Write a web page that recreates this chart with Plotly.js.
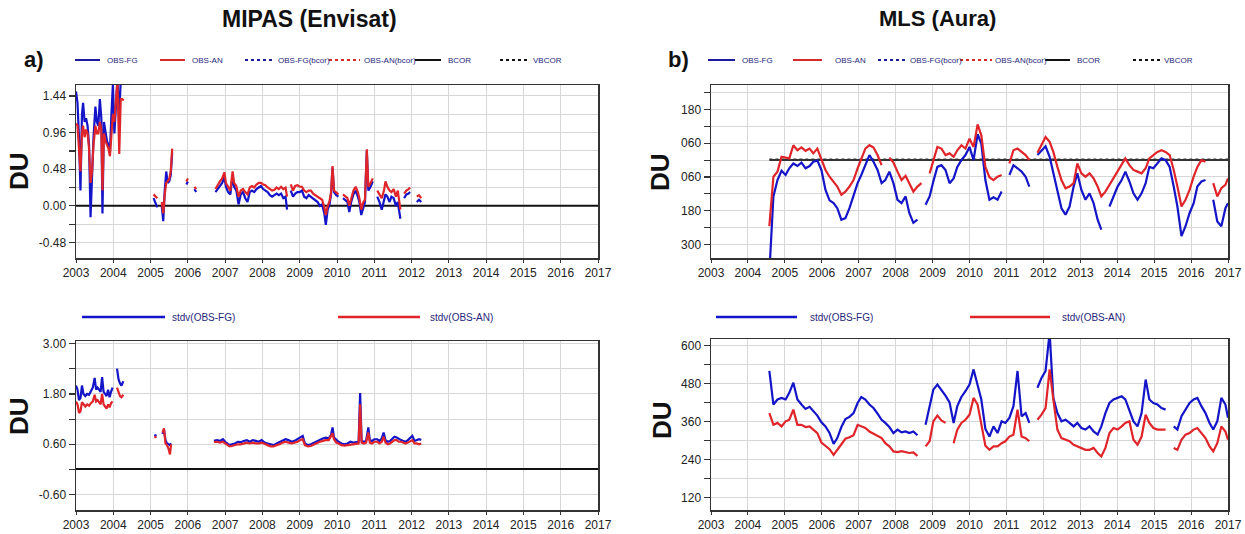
<!DOCTYPE html>
<html><head><meta charset="utf-8">
<script src="https://cdn.plot.ly/plotly-3.0.1.min.js"></script>
<style>html,body{margin:0;padding:0;background:#fff}#chart{width:1245px;height:534px}</style>
</head><body><div id="chart"></div>
<script>
// ---------------- DATA ----------------
const yearTicks = [2003,2004,2005,2006,2007,2008,2009,2010,2011,2012,2013,2014,2015,2016,2017];
const yearLabels = ["2003","2004","2005","2006","2007","2008","2009","2010","2011","2012","2013","2014","2015","2016","2017"];

// MIPAS (Envisat) mean departures (DU)
const tMipasMean = [2003.00,2003.04,2003.08,2003.12,2003.16,2003.19,2003.23,2003.27,2003.31,2003.35,2003.39,2003.43,2003.47,2003.52,2003.56,2003.60,2003.64,2003.68,2003.71,2003.75,2003.79,2003.83,2003.87,2003.91,2003.95,2003.99,2004.03,2004.07,2004.11,2004.16,2004.20,2004.24,2004.28,2004.30,
2005.08,2005.13,2005.18,2005.22,2005.30,2005.34,2005.38,2005.42,2005.46,2005.50,2005.54,2005.58,2005.60,2005.66,2005.68,2005.96,2006.00,2006.02,2006.18,2006.22,2006.24,2006.50,2006.52,2006.68,2006.70,
2006.74,2006.80,2006.86,2006.92,2006.98,2007.02,2007.08,2007.14,2007.20,2007.24,2007.30,2007.36,2007.42,2007.48,2007.54,2007.60,2007.66,2007.72,2007.78,2007.84,2007.90,2007.96,
2008.02,2008.08,2008.14,2008.20,2008.26,2008.32,2008.38,2008.44,2008.50,2008.56,2008.62,2008.66,2008.70,2008.76,2008.82,2008.88,2008.94,
2009.00,2009.06,2009.12,2009.18,2009.24,2009.30,2009.36,2009.42,2009.48,2009.54,2009.60,2009.66,2009.70,2009.75,2009.80,2009.84,2009.88,2009.92,2009.98,
2010.04,2010.08,2010.16,2010.22,2010.28,2010.33,2010.38,2010.44,2010.50,2010.56,2010.60,2010.65,2010.70,2010.75,2010.80,2010.84,2010.90,2010.96,
2011.00,2011.08,2011.14,2011.20,2011.26,2011.30,2011.35,2011.41,2011.46,2011.52,2011.58,2011.63,2011.70,2011.75,2011.80,2011.86,2011.92,2011.96,
2012.00,2012.05,2012.10,2012.14,2012.20,2012.26];
const mipasObsFg = [1.50,1.35,0.90,0.20,1.20,1.35,1.10,1.15,1.05,0.80,-0.15,0.40,0.90,1.30,1.10,1.05,1.40,1.15,-0.10,1.10,0.95,0.85,0.80,0.70,1.20,1.60,0.95,1.30,1.65,1.20,1.65,1.70,1.65,null,
0.10,0.05,-0.02,null,0.00,-0.20,0.20,0.45,0.30,0.32,0.40,0.70,null,0.20,null,0.28,0.32,null,0.22,0.18,null,0.18,null,0.12,null,
0.18,0.22,0.25,0.30,0.38,0.25,0.18,0.15,0.40,0.25,0.20,0.02,0.15,0.18,0.10,0.05,0.18,0.20,0.18,0.22,0.24,0.26,
0.22,0.20,0.18,0.14,0.12,0.14,0.16,0.14,0.16,0.10,0.12,-0.05,null,0.20,0.12,0.16,0.18,
0.18,0.20,0.12,0.10,0.14,0.12,0.10,0.08,0.05,0.00,0.02,-0.10,-0.25,-0.05,0.02,0.15,0.50,0.18,0.14,
0.12,null,0.10,0.08,0.05,-0.08,0.05,0.15,0.20,0.12,0.05,-0.12,-0.02,0.05,0.72,0.20,0.25,0.32,
null,0.12,0.05,-0.05,0.10,0.15,0.12,0.05,0.12,0.10,0.00,0.05,-0.17,null,0.10,0.15,0.16,0.18,
null,-0.08,null,0.05,0.08,0.05];
const mipasObsAn = [1.08,1.05,0.75,0.45,0.95,1.05,0.90,1.00,0.95,0.75,0.30,0.45,0.80,1.05,0.95,0.95,1.10,1.00,0.20,0.95,0.85,0.80,0.75,0.65,1.00,1.20,1.10,1.40,1.65,0.68,1.40,1.40,1.38,null,
0.15,0.12,0.10,null,0.05,-0.10,0.15,0.30,0.32,0.35,0.45,0.75,null,0.22,null,0.32,0.36,null,0.25,0.22,null,0.25,null,null,null,
0.22,0.28,0.32,0.36,0.44,0.30,0.24,0.20,0.45,0.30,0.26,0.12,0.20,0.22,0.18,0.15,0.24,0.26,0.24,0.28,0.30,0.30,
0.28,0.27,0.24,0.22,0.20,0.21,0.24,0.22,0.25,0.22,0.24,0.12,null,0.28,0.20,0.26,0.27,
0.25,0.25,0.20,0.18,0.20,0.20,0.16,0.14,0.12,0.10,0.08,-0.02,-0.12,0.00,0.06,0.18,0.52,0.20,0.17,
0.15,null,0.15,0.12,0.10,0.00,0.10,0.20,0.25,0.18,0.10,-0.05,0.04,0.08,0.74,0.25,0.30,0.36,
null,0.20,0.15,0.10,0.20,0.32,0.25,0.20,0.18,0.22,0.12,0.20,-0.05,null,0.16,0.20,0.22,0.24,
null,0.00,null,0.12,0.14,0.10];
const tMipasBcor = [2003.0, 2017.0];
const mipasBcor = [0, 0];

// MIPAS (Envisat) standard deviations (DU)
const tMipasStd = [2003.00,2003.04,2003.08,2003.12,2003.16,2003.20,2003.25,2003.30,2003.35,2003.40,2003.45,2003.50,2003.54,2003.58,2003.62,2003.66,2003.70,2003.74,2003.78,2003.82,2003.86,2003.90,2003.94,2003.98,2004.00,
2004.10,2004.14,2004.18,2004.22,2004.27,2004.30,
2005.10,2005.16,2005.20,2005.32,2005.36,2005.40,2005.44,2005.48,2005.52,2005.55,2005.58,2005.98,2006.00,2006.18,2006.20,2006.48,2006.50,
2006.70,2006.78,2006.86,2006.94,2007.00,2007.06,2007.12,2007.18,2007.26,2007.34,2007.42,2007.50,2007.58,2007.66,2007.74,2007.82,2007.90,2007.98,
2008.06,2008.14,2008.22,2008.30,2008.38,2008.46,2008.54,2008.62,2008.70,2008.78,2008.86,2008.94,
2009.02,2009.08,2009.14,2009.22,2009.30,2009.38,2009.46,2009.54,2009.62,2009.70,2009.78,2009.84,2009.88,2009.92,2009.98,
2010.04,2010.12,2010.20,2010.28,2010.36,2010.44,2010.52,2010.58,2010.62,2010.66,2010.72,2010.78,2010.84,2010.88,2010.94,
2011.00,2011.08,2011.14,2011.20,2011.25,2011.30,2011.36,2011.42,2011.48,2011.54,2011.60,2011.66,2011.72,2011.78,2011.84,2011.90,2011.96,
2012.02,2012.08,2012.14,2012.20,2012.26];
const mipasStdFg = [2.00,1.90,1.65,1.70,2.00,1.80,1.75,1.80,1.78,1.85,1.95,2.18,1.90,1.95,1.90,1.85,2.20,1.85,1.80,1.75,1.90,1.72,1.85,1.95,null,
2.40,2.15,2.05,2.00,2.10,null,
0.80,0.82,null,0.85,0.95,0.70,0.62,0.60,0.58,0.62,null,0.62,null,0.60,null,0.65,null,
0.68,0.70,0.68,0.72,0.66,0.62,0.58,0.60,0.62,0.66,0.65,0.68,0.70,0.66,0.70,0.68,0.66,0.70,
0.64,0.62,0.60,0.58,0.62,0.66,0.70,0.72,0.70,0.66,0.68,0.72,
0.78,0.80,0.62,0.58,0.60,0.64,0.66,0.70,0.74,0.76,0.74,0.82,1.00,0.76,0.70,
0.66,0.62,0.60,0.62,0.66,0.64,0.66,0.66,1.82,0.68,0.66,0.68,1.00,0.70,0.68,
0.72,0.72,0.68,0.74,0.88,0.70,0.66,0.68,0.72,0.78,0.76,0.72,0.70,0.68,0.66,0.70,0.74,
0.80,0.68,0.70,0.72,0.70];
const mipasStdAn = [1.62,1.55,1.35,1.38,1.60,1.55,1.50,1.55,1.52,1.58,1.62,1.78,1.62,1.65,1.60,1.55,1.80,1.55,1.50,1.45,1.55,1.48,1.58,1.62,null,
1.95,1.85,1.75,1.72,1.78,null,
0.76,0.78,null,0.88,0.98,0.62,0.58,0.50,0.36,0.60,null,0.60,null,0.58,null,0.62,null,
0.65,0.66,0.64,0.66,0.62,0.58,0.55,0.56,0.58,0.60,0.60,0.62,0.64,0.62,0.64,0.62,0.62,0.64,
0.60,0.58,0.55,0.55,0.58,0.60,0.64,0.66,0.64,0.62,0.64,0.66,
0.70,0.72,0.58,0.55,0.56,0.60,0.62,0.66,0.68,0.70,0.70,0.78,0.86,0.72,0.64,
0.62,0.58,0.57,0.58,0.60,0.60,0.62,0.62,1.55,0.64,0.62,0.64,0.88,0.64,0.62,
0.66,0.66,0.62,0.66,0.78,0.64,0.60,0.62,0.66,0.70,0.70,0.66,0.66,0.64,0.62,0.64,0.68,
0.70,0.62,0.62,0.60,0.62];

// MLS (Aura) time grid (decimal years)
const tMls = [2004.58,2004.69,2004.80,2004.91,2005.02,2005.12,2005.23,2005.34,2005.45,2005.56,2005.67,2005.77,2005.88,2005.99,
2006.10,2006.21,2006.32,2006.42,2006.53,2006.64,2006.75,2006.86,2006.97,2007.07,2007.18,2007.29,2007.40,2007.51,2007.62,2007.72,2007.83,2007.94,
2008.05,2008.16,2008.27,2008.37,2008.48,2008.59,2008.70,2008.81,2008.92,2009.02,2009.13,2009.24,2009.35,2009.46,2009.57,2009.67,2009.78,2009.89,
2010.00,2010.11,2010.22,2010.32,2010.43,2010.54,2010.65,2010.76,2010.87,2010.97,2011.08,2011.19,2011.30,2011.41,2011.52,2011.62,2011.73,2011.84,2011.95,
2012.06,2012.17,2012.27,2012.38,2012.49,2012.60,2012.71,2012.82,2012.92,2013.03,2013.14,2013.25,2013.36,2013.47,2013.57,2013.68,2013.79,2013.90,
2014.01,2014.12,2014.22,2014.33,2014.44,2014.55,2014.66,2014.77,2014.87,2014.98,2015.09,2015.20,2015.31,2015.42,2015.53,2015.63,2015.74,2015.85,2015.96,
2016.07,2016.17,2016.28,2016.39,2016.50,2016.60,2016.71,2016.82,2016.93,2017.00];
// MLS mean departures (DU)
const mlsObsFg = [-0.40,-0.129,-0.071,-0.038,-0.053,-0.029,-0.012,-0.021,-0.009,-0.029,-0.021,-0.006,-0.002,-0.035,
-0.106,-0.143,-0.153,-0.171,-0.212,-0.206,-0.171,-0.129,-0.082,-0.053,-0.018,0.018,-0.006,-0.035,-0.082,-0.071,-0.041,-0.082,
-0.141,-0.153,-0.129,-0.188,-0.223,-0.212,null,-0.159,-0.129,-0.076,-0.024,-0.018,-0.035,-0.082,-0.065,-0.024,0.000,0.018,
0.047,0.000,0.092,0.059,-0.071,-0.141,-0.132,-0.141,-0.112,null,-0.053,-0.018,-0.029,-0.041,-0.059,-0.094,null,0.018,0.035,
0.049,0.012,-0.047,-0.118,-0.171,-0.194,-0.165,-0.094,-0.047,-0.106,-0.141,-0.118,-0.153,-0.212,-0.247,null,-0.165,-0.129,
-0.094,-0.071,-0.041,-0.076,-0.118,-0.141,-0.118,-0.082,-0.024,-0.029,-0.012,0.006,0.000,-0.024,-0.094,-0.165,-0.270,-0.235,-0.188,
-0.153,-0.094,-0.076,-0.071,null,-0.141,-0.218,-0.235,-0.171,-0.153];
const mlsObsAn = [-0.235,-0.059,-0.041,0.012,0.009,0.006,0.053,0.035,0.045,0.033,0.041,0.024,0.041,0.006,
-0.035,-0.059,-0.076,-0.094,-0.123,-0.112,-0.094,-0.071,-0.029,0.006,0.041,0.053,0.045,0.018,-0.018,null,0.009,-0.009,
-0.041,-0.071,-0.056,-0.082,-0.112,-0.094,-0.082,null,-0.047,0.000,0.047,0.041,0.018,0.024,0.012,0.035,0.053,0.041,
0.076,0.047,0.127,0.088,-0.024,-0.061,-0.071,-0.059,-0.053,null,-0.012,0.035,0.041,0.029,0.018,0.000,null,0.026,0.056,
0.082,0.065,0.029,-0.024,-0.071,-0.100,-0.094,-0.082,-0.012,-0.047,-0.059,-0.047,-0.065,-0.094,-0.129,-0.112,-0.088,-0.065,
-0.041,-0.012,0.006,-0.018,-0.035,-0.041,-0.047,-0.029,0.006,0.018,0.029,0.035,0.029,0.018,-0.035,-0.094,-0.165,-0.141,-0.106,
-0.059,-0.024,0.000,-0.006,null,-0.082,-0.129,-0.100,-0.088,-0.065];
const tMlsBcor = [2004.58, 2017.0];
const mlsBcor = [0, 0];
const mlsVbcor = [0.003, 0.003];
// MLS standard deviations (DU)
const mlsStdFg = [0.519,0.413,0.429,0.434,0.429,0.450,0.482,0.429,0.413,0.399,0.406,0.392,0.378,0.357,
0.344,0.323,0.289,0.307,0.342,0.367,0.374,0.386,0.418,0.437,0.429,0.413,0.402,0.384,0.365,0.355,0.342,0.323,
0.334,0.325,0.328,0.323,0.328,0.316,null,0.349,0.413,0.460,0.476,0.460,0.441,0.420,0.355,0.408,0.437,0.455,
0.476,0.524,0.473,0.429,0.336,0.312,0.344,0.323,0.360,0.355,0.371,0.408,0.519,0.376,0.386,0.355,null,0.466,0.497,
0.519,0.640,0.434,0.386,0.360,0.365,0.355,0.344,0.355,0.339,0.334,0.344,0.328,0.318,0.344,0.386,0.418,0.429,
0.434,0.439,0.429,0.397,0.360,0.344,0.386,0.492,0.429,0.418,0.413,0.402,0.397,null,0.344,0.334,0.376,0.397,0.418,
0.429,0.434,0.408,0.386,0.355,0.334,0.360,0.434,0.413,0.371];
const mlsStdAn = [0.386,0.349,0.355,0.344,0.360,0.365,0.397,0.349,0.349,0.342,0.344,0.334,0.323,0.293,
0.283,0.272,0.254,0.270,0.289,0.305,0.310,0.316,0.349,0.344,0.339,0.328,0.321,0.312,0.307,0.291,0.281,0.265,
0.263,0.266,0.264,0.260,0.262,0.251,null,0.281,0.297,0.360,0.378,0.363,0.355,null,0.291,0.334,0.355,0.365,
0.381,0.434,0.413,0.355,0.283,0.270,0.281,0.281,0.291,0.297,0.312,0.318,0.397,0.312,0.307,0.297,null,0.365,0.381,
0.402,0.524,0.429,0.334,0.307,0.302,0.297,0.286,0.281,0.276,0.270,0.270,0.276,0.260,0.249,0.276,0.323,0.339,
0.334,0.344,0.355,0.360,0.302,0.286,0.312,0.381,0.355,0.339,0.334,0.334,0.334,null,0.276,0.270,0.302,0.318,0.323,
0.334,0.339,0.323,0.307,0.281,0.265,0.291,0.344,0.328,0.302];

// ---------------- LAYOUT / STYLE ----------------
const W = 1245, H = 534;
const px = x => x / W, py = y => 1 - y / H;
const BLUE = '#1414c8', RED = '#e0252a', NAVY = '#27277a';
const FONT = 'Liberation Sans, Arial, Helvetica, sans-serif';

function line(x, y, color, xa, ya, extra) {
  return Object.assign({x: x, y: y, type: 'scatter', mode: 'lines', xaxis: xa, yaxis: ya,
    line: {color: color, width: 2.2}, connectgaps: false, showlegend: false, hoverinfo: 'skip'}, extra || {});
}
const traces = [
  line(tMipasBcor, mipasBcor, '#111', 'x', 'y', {line: {color: '#111', width: 2}}),
  line(tMipasMean, mipasObsFg, BLUE, 'x', 'y'),
  line(tMipasMean, mipasObsAn, RED, 'x', 'y'),
  line(tMipasStd, mipasStdFg, BLUE, 'x2', 'y2'),
  line(tMipasStd, mipasStdAn, RED, 'x2', 'y2'),
  line(tMlsBcor, mlsVbcor, '#555', 'x3', 'y3', {line: {color: '#777', width: 2, dash: 'dot'}}),
  line(tMlsBcor, mlsBcor, '#111', 'x3', 'y3', {line: {color: '#333', width: 2}}),
  line(tMls, mlsObsFg, BLUE, 'x3', 'y3'),
  line(tMls, mlsObsAn, RED, 'x3', 'y3'),
  line(tMls, mlsStdFg, BLUE, 'x4', 'y4'),
  line(tMls, mlsStdAn, RED, 'x4', 'y4'),
];

function xax(d0, d1, anchor) {
  return {domain: [px(d0), px(d1)], anchor: anchor, range: [2003, 2017], tickmode: 'array',
    tickvals: yearTicks, ticktext: yearLabels, ticks: 'outside', ticklen: 3, tickcolor: '#333',
    showgrid: true, gridcolor: '#d6d6d6', gridwidth: 1, showline: true, linecolor: '#333', linewidth: 1.5,
    mirror: true, zeroline: false, tickfont: {family: FONT, size: 12, color: '#222'}, fixedrange: true};
}
function yax(top, bot, anchor, range, vals, text, minorVals, zero) {
  return {domain: [py(bot), py(top)], anchor: anchor, range: range, tickmode: 'array', tickvals: vals, ticktext: text,
    ticks: 'outside', ticklen: 6, tickcolor: '#333', tickwidth: 1.2,
    showgrid: true, gridcolor: '#d6d6d6', gridwidth: 1, showline: true, linecolor: '#333', linewidth: 1.5, mirror: true,
    zeroline: !!zero, zerolinecolor: '#111', zerolinewidth: 2,
    minor: {tickmode: 'array', tickvals: minorVals, ticks: 'outside', ticklen: 6, tickcolor: '#333', showgrid: true, gridcolor: '#d6d6d6'},
    tickfont: {family: FONT, size: 12, color: '#222'}, fixedrange: true};
}

const layout = {
  width: W, height: H, margin: {l: 0, r: 0, t: 0, b: 0}, paper_bgcolor: '#fff', plot_bgcolor: '#fff', showlegend: false,
  xaxis: xax(76, 598, 'y'),
  yaxis: yax(85, 258, 'x', [-0.684, 1.584], [-0.48, 0, 0.48, 0.96, 1.44], ['-0.48', '0.00', '0.48', '0.96', '1.44'], [-0.24, 0.24, 0.72, 1.2], false),
  xaxis2: xax(76, 598, 'y2'),
  yaxis2: yax(341, 510, 'x2', [-0.965, 3.06], [-0.6, 0.6, 1.8, 3.0], ['-0.60', '0.60', '1.80', '3.00'], [0, 1.2, 2.4], true),
  xaxis3: xax(711, 1228, 'y3'),
  yaxis3: yax(85, 258, 'x3', [-0.348, 0.267], [-0.30, -0.18, -0.06, 0.06, 0.18], ['300', '180', '060', '060', '180'], [-0.24, -0.12, 0, 0.12, 0.24], false),
  xaxis4: xax(711, 1228, 'y4'),
  yaxis4: yax(339, 510, 'x4', [0.080, 0.62], [0.12, 0.24, 0.36, 0.48, 0.60], ['120', '240', '360', '480', '600'], [0.18, 0.30, 0.42, 0.54], false),
  shapes: [], annotations: []
};

function ann(x, y, text, size, extra) {
  layout.annotations.push(Object.assign({xref: 'paper', yref: 'paper', x: px(x), y: py(y), text: text, showarrow: false,
    xanchor: 'center', yanchor: 'middle', font: {family: FONT, size: size, color: '#111'}}, extra || {}));
}
ann(309, 19, '<b>MIPAS (Envisat)</b>', 23);
ann(937, 19, '<b>MLS (Aura)</b>', 22);
ann(34, 59, '<b>a)</b>', 22);
ann(678, 59, '<b>b)</b>', 22);
ann(19, 171, '<b>DU</b>', 26, {textangle: -90});
ann(19, 416, '<b>DU</b>', 26, {textangle: -90});
ann(660, 172, '<b>DU</b>', 26, {textangle: -90});
ann(662, 420, '<b>DU</b>', 26, {textangle: -90});

// legend keys (drawn as shapes + labels)
function key(x0, x1, tx, y, label, color, dash, width, size) {
  layout.shapes.push({type: 'line', xref: 'paper', yref: 'paper', x0: px(x0), x1: px(x1), y0: py(y), y1: py(y),
    line: {color: color, width: width, dash: dash}});
  ann(tx, y, label, size, {xanchor: 'left', font: {family: FONT, size: size, color: NAVY}});
}
const topKeys = [
  ['OBS-FG', '#1c1c9a', 'solid'], ['OBS-AN', '#d42a2a', 'solid'], ['OBS-FG(bcor)', '#1c1c9a', 'dot'],
  ['OBS-AN(bcor)', '#d42a2a', 'dot'], ['BCOR', '#111', 'solid'], ['VBCOR', '#111', 'dot']];
const leftKeyPos = [[75, 100, 105], [160, 185, 190], [245, 274, 276], [329, 360, 362], [415, 441, 446], [500, 527, 531]];
const rightKeyPos = [[708, 735, 740], [793, 822, 833], [878, 906, 908], [960, 992, 993], [1045, 1070, 1075], [1133, 1160, 1162]];
topKeys.forEach((k, i) => {
  key(leftKeyPos[i][0], leftKeyPos[i][1], leftKeyPos[i][2], 60, k[0], k[1], k[2], 2, 8);
  key(rightKeyPos[i][0], rightKeyPos[i][1], rightKeyPos[i][2], 60, k[0], k[1], k[2], 2, 8);
});
key(82, 165, 170, 317, 'stdv(OBS-FG)', BLUE, 'solid', 2.5, 10);
key(338, 420, 428, 317, 'stdv(OBS-AN)', RED, 'solid', 2.5, 10);
key(716, 797, 808, 317, 'stdv(OBS-FG)', BLUE, 'solid', 2.5, 10);
key(970, 1050, 1060, 317, 'stdv(OBS-AN)', RED, 'solid', 2.5, 10);

Plotly.newPlot('chart', traces, layout, {staticPlot: true, displayModeBar: false});
</script>
</body></html>
